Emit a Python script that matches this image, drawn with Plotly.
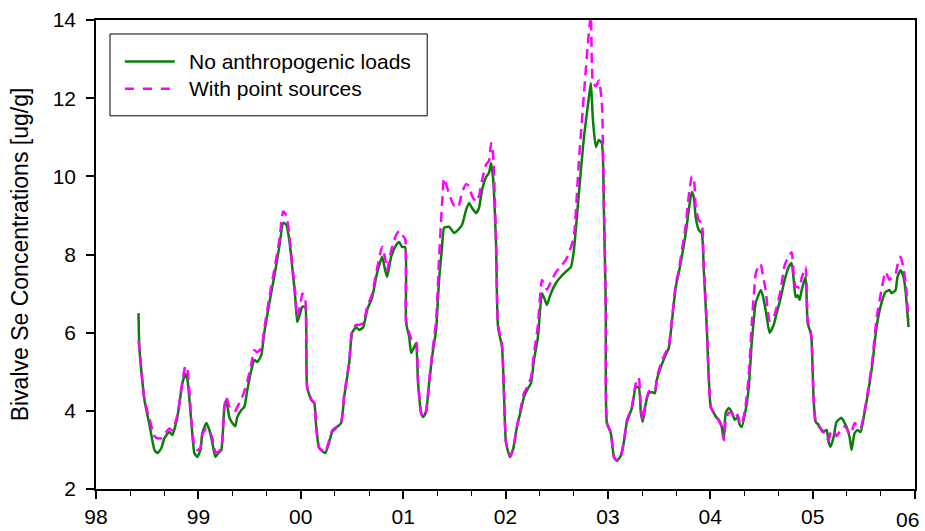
import plotly.graph_objects as go

# Decimal-year offsets from 1998
year_offset = [
    0.415, 0.424, 0.473, 0.522, 0.571, 0.600, 0.639, 0.668, 0.717, 0.746,
    0.795, 0.844, 0.873, 0.893, 0.932, 0.961, 0.990, 1.020, 1.039, 1.078,
    1.107, 1.137, 1.166, 1.195, 1.224, 1.254, 1.273, 1.302, 1.332, 1.361,
    1.380, 1.420, 1.449, 1.478, 1.517, 1.546, 1.576, 1.615, 1.644, 1.693,
    1.741, 1.790, 1.829, 1.859, 1.888, 1.917, 1.946, 1.966, 1.995, 2.015,
    2.044, 2.054, 2.063, 2.102, 2.132, 2.151, 2.180, 2.239, 2.278, 2.307,
    2.356, 2.395, 2.424, 2.473, 2.502, 2.541, 2.571, 2.610, 2.649, 2.698,
    2.746, 2.795, 2.824, 2.844, 2.883, 2.932, 2.961, 2.990, 3.020, 3.029,
    3.059, 3.078, 3.107, 3.127, 3.146, 3.176, 3.195, 3.224, 3.254, 3.283,
    3.322, 3.351, 3.380, 3.400, 3.449, 3.498, 3.537, 3.576, 3.615, 3.644,
    3.673, 3.712, 3.741, 3.771, 3.810, 3.839, 3.859, 3.878, 3.907, 3.927,
    3.966, 3.985, 4.005, 4.044, 4.073, 4.112, 4.151, 4.180, 4.210, 4.249,
    4.278, 4.317, 4.356, 4.385, 4.405, 4.444, 4.493, 4.541, 4.590, 4.639,
    4.668, 4.717, 4.766, 4.815, 4.834, 4.854, 4.883, 4.912, 4.941, 4.961,
    4.980, 4.990, 5.029, 5.059, 5.088, 5.127, 5.156, 5.185, 5.234, 5.273,
    5.302, 5.322, 5.341, 5.371, 5.400, 5.429, 5.459, 5.478, 5.517, 5.556,
    5.595, 5.624, 5.663, 5.693, 5.722, 5.761, 5.790, 5.820, 5.839, 5.859,
    5.888, 5.917, 5.937, 5.966, 5.985, 6.005, 6.034, 6.063, 6.083, 6.112,
    6.132, 6.151, 6.180, 6.210, 6.239, 6.268, 6.288, 6.307, 6.346, 6.376,
    6.405, 6.444, 6.463, 6.493, 6.512, 6.541, 6.580, 6.620, 6.649, 6.688,
    6.727, 6.766, 6.795, 6.815, 6.834, 6.854, 6.873, 6.893, 6.932, 6.951,
    6.980, 6.990, 7.010, 7.029, 7.059, 7.098, 7.137, 7.156, 7.176, 7.205,
    7.234, 7.283, 7.312, 7.332, 7.361, 7.380, 7.410, 7.439, 7.468, 7.507,
    7.546, 7.585, 7.624, 7.673, 7.712, 7.751, 7.771, 7.810, 7.829, 7.859,
    7.888, 7.907, 7.937,
]

no_anthropogenic = [
    6.50, 5.60, 4.28, 3.65, 3.00, 2.92, 3.05, 3.30, 3.46, 3.38,
    3.84, 4.71, 4.95, 4.80, 3.69, 2.92, 2.82, 3.00, 3.43, 3.69,
    3.51, 3.18, 2.82, 2.92, 3.00, 4.10, 4.28, 3.84, 3.69, 3.61,
    3.84, 4.02, 4.10, 4.53, 5.04, 5.30, 5.25, 5.43, 6.00, 6.76,
    7.43, 8.19, 8.81, 8.76, 8.37, 7.68, 6.91, 6.27, 6.50, 6.66,
    6.66, 5.81, 4.60, 4.28, 4.20, 3.59, 3.05, 2.92, 3.20, 3.46,
    3.59, 3.69, 4.35, 5.22, 6.00, 6.14, 6.07, 6.14, 6.58, 6.91,
    7.53, 7.94, 7.60, 7.43, 7.94, 8.24, 8.32, 8.19, 8.19, 6.25,
    5.89, 5.48, 5.63, 5.73, 4.71, 3.95, 3.84, 3.97, 4.71, 5.38,
    6.07, 7.35, 8.19, 8.68, 8.71, 8.55, 8.63, 8.76, 9.14, 9.32,
    9.19, 9.06, 9.19, 9.65, 9.98, 10.09, 10.34, 9.98, 8.29, 6.14,
    5.63, 4.45, 3.18, 2.82, 3.00, 3.59, 4.02, 4.35, 4.53, 4.71,
    5.30, 5.89, 7.01, 6.84, 6.71, 7.01, 7.27, 7.43, 7.56, 7.68,
    8.11, 9.57, 11.00, 12.03, 12.39, 11.44, 10.75, 10.93, 10.85, 9.14,
    6.58, 3.69, 3.43, 2.82, 2.72, 2.85, 3.20, 3.70, 4.07, 4.60,
    4.60, 3.95, 3.72, 4.20, 4.45, 4.48, 4.45, 4.79, 5.12, 5.38,
    5.61, 6.25, 7.17, 7.53, 7.94, 8.55, 9.14, 9.60, 9.47, 8.93,
    8.63, 8.55, 7.60, 6.14, 4.86, 4.10, 3.95, 3.82, 3.77, 3.59,
    3.26, 3.95, 4.07, 3.97, 3.77, 3.84, 3.64, 3.59, 4.02, 4.60,
    5.73, 6.76, 6.91, 7.09, 6.96, 6.58, 6.00, 6.20, 6.50, 6.89,
    7.35, 7.68, 7.78, 7.35, 6.91, 6.96, 6.84, 7.09, 7.43, 6.25,
    6.00, 5.81, 4.28, 3.72, 3.64, 3.46, 3.51, 3.20, 3.08, 3.33,
    3.72, 3.82, 3.69, 3.59, 3.33, 3.00, 3.43, 3.51, 3.46, 3.95,
    4.53, 5.22, 6.14, 6.76, 7.04, 7.09, 7.01, 7.09, 7.43, 7.60,
    7.43, 7.09, 6.14,
]

with_point_sources = [
    5.80, 5.60, 4.28, 3.80, 3.35, 3.30, 3.30, 3.40, 3.55, 3.50,
    3.90, 4.75, 5.15, 5.05, 3.75, 3.10, 3.00, 3.05, 3.40, 3.55,
    3.50, 3.30, 2.95, 2.95, 3.05, 4.10, 4.35, 4.10, 4.00, 4.00,
    4.10, 4.30, 4.50, 4.75, 5.20, 5.55, 5.50, 5.60, 6.10, 6.90,
    7.60, 8.35, 9.10, 9.00, 8.50, 7.75, 7.00, 6.40, 6.70, 7.00,
    6.85, 5.90, 4.60, 4.30, 4.20, 3.60, 3.05, 2.95, 3.25, 3.50,
    3.60, 3.72, 4.40, 5.25, 6.05, 6.20, 6.20, 6.25, 6.65, 7.00,
    7.65, 8.20, 7.90, 7.60, 8.10, 8.50, 8.60, 8.50, 8.40, 6.30,
    6.00, 5.85, 5.80, 5.80, 4.75, 3.95, 3.84, 4.00, 4.75, 5.45,
    6.30, 7.90, 9.30, 9.95, 9.55, 9.25, 9.20, 9.60, 9.80, 9.75,
    9.50, 9.35, 9.50, 9.90, 10.30, 10.40, 10.85, 10.60, 8.40, 6.20,
    5.70, 4.50, 3.20, 2.85, 3.00, 3.60, 4.10, 4.45, 4.60, 4.85,
    5.45, 6.20, 7.35, 7.20, 7.10, 7.30, 7.55, 7.70, 7.86, 8.19,
    8.45, 10.40, 12.10, 13.70, 14.10, 12.40, 12.30, 12.45, 11.90, 9.30,
    6.60, 3.70, 3.45, 2.82, 2.72, 2.85, 3.20, 3.75, 4.10, 4.70,
    4.85, 4.10, 3.75, 4.25, 4.50, 4.52, 4.50, 4.85, 5.20, 5.45,
    5.65, 6.30, 7.25, 7.60, 8.10, 8.75, 9.50, 10.00, 9.95, 9.20,
    8.88, 8.80, 7.70, 6.20, 4.90, 4.10, 3.95, 3.85, 3.75, 3.60,
    3.25, 3.75, 3.95, 3.95, 3.80, 3.90, 3.70, 3.65, 4.15, 4.90,
    6.20, 7.50, 7.65, 7.75, 7.50, 7.10, 6.30, 6.40, 6.65, 7.09,
    7.73, 7.95, 8.06, 7.50, 7.17, 7.17, 7.14, 7.40, 7.68, 6.33,
    6.05, 5.85, 4.30, 3.75, 3.60, 3.50, 3.30, 3.25, 3.45, 3.50,
    3.35, 3.55, 3.60, 3.55, 3.40, 3.45, 3.69, 3.60, 3.55, 4.00,
    4.60, 5.35, 6.35, 7.10, 7.55, 7.35, 7.40, 7.50, 7.73, 7.94,
    7.65, 7.30, 6.33,
]

series_names = ["No anthropogenic loads", "With point sources"]
series_colors = ["#0a7d0a", "#ff00ff"]
series_dashes = ["solid", "10px,6px"]

years = [1998 + v for v in year_offset]

tick_years = [1998, 1999, 2000, 2001, 2002, 2003, 2004, 2005, 2006]
tick_labels = ["98", "99", "00", "01", "02", "03", "04", "05", "06"]
y_ticks = [2, 4, 6, 8, 10, 12, 14]

FONT = "Arial, Liberation Sans, sans-serif"

fig = go.Figure()
for vals, nm, col, dsh in zip([no_anthropogenic, with_point_sources],
                              series_names, series_colors, series_dashes):
    fig.add_trace(go.Scatter(
        x=years, y=vals, mode="lines", name=nm, showlegend=False,
        line=dict(color=col, width=2.5, dash=dsh, shape="spline", smoothing=0.5),
    ))

# Legend drawn as a boxed key (paper coordinates inside the plot area)
shapes = [dict(type="rect", xref="paper", yref="paper",
               x0=0.0171, x1=0.4044, y0=0.7957, y1=0.9702,
               line=dict(color="black", width=1), fillcolor="white", layer="above")]
annotations = []
key_y = [0.9117, 0.8532]
for ky, nm, col, dsh in zip(key_y, series_names, series_colors, series_dashes):
    shapes.append(dict(type="line", xref="paper", yref="paper",
                       x0=0.0353, x1=0.0962, y0=ky, y1=ky, layer="above",
                       line=dict(color=col, width=2.5,
                                 dash="dash" if dsh != "solid" else "solid")))
    annotations.append(dict(xref="paper", yref="paper", x=0.1108, y=ky,
                            xanchor="left", yanchor="middle", showarrow=False,
                            text=nm, font=dict(family=FONT, size=21, color="black")))

# The last x tick label sits flush with the page edge (shifted inward)
shown_ticktext = tick_labels[:-1] + [""]
annotations.append(dict(xref="x", yref="paper", x=tick_years[-1], y=0,
                        xanchor="right", yanchor="middle", xshift=6, yshift=-30,
                        showarrow=False, text=tick_labels[-1],
                        font=dict(family=FONT, size=21, color="black")))

fig.update_layout(
    width=925, height=531,
    margin=dict(l=96, r=8, t=19, b=42),
    paper_bgcolor="white", plot_bgcolor="white",
    font=dict(family=FONT, size=21, color="black"),
    shapes=shapes, annotations=annotations,
    xaxis=dict(
        range=[1998, 2006], tickvals=tick_years, ticktext=shown_ticktext,
        showgrid=False, zeroline=False, automargin=False,
        showline=True, linecolor="black", linewidth=1.5, mirror=True,
        ticks="outside", ticklen=8, tickwidth=1.5, tickcolor="black",
        minor=dict(dtick=1/3, tick0=1998, ticks="outside", ticklen=5,
                   tickwidth=1.2, tickcolor="black", showgrid=False),
        tickfont=dict(family=FONT, size=21, color="black"),
    ),
    yaxis=dict(
        range=[2, 14], tickvals=y_ticks,
        showgrid=False, zeroline=False, automargin=True,
        showline=True, linecolor="black", linewidth=1.5, mirror=True,
        ticks="outside", ticklen=8, tickwidth=1.5, tickcolor="black",
        ticklabelstandoff=6,
        tickfont=dict(family=FONT, size=21, color="black"),
        title=dict(text="Bivalve Se Concentrations [ug/g]",
                   font=dict(family=FONT, size=23, color="black"),
                   standoff=18),
    ),
)

fig.write_html("out.html")
